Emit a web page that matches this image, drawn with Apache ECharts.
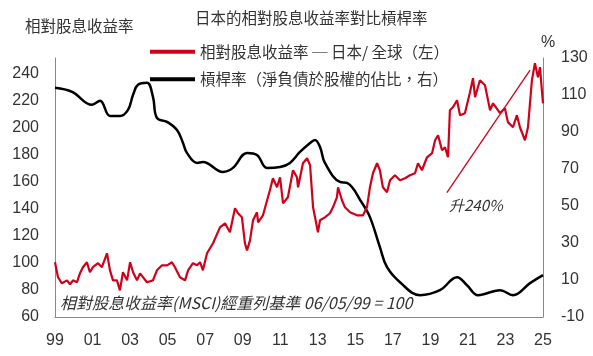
<!DOCTYPE html>
<html>
<head>
<meta charset="utf-8">
<script src="https://cdn.jsdelivr.net/npm/echarts@6/dist/echarts.min.js"></script>
<style>
html,body{margin:0;padding:0;background:#fff;}
#chart{width:593px;height:356px;}
</style>
</head>
<body>
<div id="chart"></div>
<script>
// ---- Data ----
const redYears = [1999.00,1999.16,1999.37,1999.64,1999.80,1999.96,2000.17,2000.33,2000.49,2000.70,2000.86,2001.02,2001.29,2001.50,2001.77,2001.93,2002.09,2002.30,2002.46,2002.62,2002.84,2003.00,2003.16,2003.37,2003.53,2003.90,2004.22,2004.43,2004.70,2004.97,2005.23,2005.39,2005.66,2005.93,2006.09,2006.35,2006.57,2006.73,2006.88,2007.10,2007.42,2007.79,2008.06,2008.32,2008.59,2008.75,2008.96,2009.12,2009.23,2009.39,2009.55,2009.76,2009.82,2010.08,2010.45,2010.61,2010.83,2010.99,2011.15,2011.41,2011.68,2011.89,2011.95,2012.21,2012.43,2012.59,
  2012.75,2013.01,2013.12,2013.38,2013.65,2013.81,2014.02,2014.08,2014.29,2014.45,2014.72,2015.09,2015.41,2015.62,2015.78,2015.94,2016.16,2016.31,2016.47,2016.69,2016.85,2017.11,2017.38,2017.65,2017.91,2018.18,2018.34,2018.55,2018.82,2019.09,2019.25,2019.41,2019.62,2019.78,2019.94,2020.04,2020.20,2020.42,2020.58,2020.84,2021.11,2021.27,2021.38,2021.64,2021.91,2022.18,2022.34,2022.71,2022.97,2023.13,2023.40,2023.61,2023.77,2024.04,2024.20,2024.41,2024.57,2024.73,2024.84,2024.92,2025.00];
const redValues = [100.5,89.4,84.9,87.1,84.2,87.1,85.7,92.3,96.8,100.5,93.1,96.8,99.8,96.8,107.1,94.5,87.1,87.1,79.7,93.1,87.1,100.5,93.1,87.1,92.3,85.7,87.1,94.5,98.2,98.2,100.5,96.8,89.4,87.1,94.5,99.8,98.2,100.5,94.5,107.1,114.5,126.3,129.3,122.6,140.4,136.7,133.7,114.5,109.3,116.7,131.5,137.4,130.0,135.2,153.7,162.6,155.9,163.3,144.1,148.5,168.5,163.3,155.9,173.7,177.4,172.2,
  141.1,122.6,131.5,133.7,136.7,141.1,148.5,155.9,146.3,141.1,137.4,135.2,135.2,141.1,155.9,166.3,173.7,168.5,155.9,152.2,161.1,164.8,161.1,162.6,164.8,166.3,173.7,168.5,178.1,181.1,190.7,194.4,183.3,185.5,178.1,212.9,215.1,220.3,209.2,210.7,226.2,236.6,222.5,235.1,231.4,212.9,218.0,210.7,214.4,204.1,200.3,209.2,200.3,190.7,200.3,235.1,247.6,237.3,244.7,231.0,218.0];

const blackYears = [1999.00,1999.91,2000.97,2001.40,2001.93,2002.46,2002.89,2003.16,2003.42,2003.90,2004.22,2004.43,2004.97,2005.50,2005.82,2006.03,2006.57,2006.88,2007.95,2008.48,2009.23,2009.76,2010.29,2010.99,2011.52,2012.05,2012.59,2012.85,2013.12,2013.38,2014.18,2014.56,2015.36,2015.78,2016.31,2016.69,2017.38,2018.45,2019.51,2020.42,2020.95,2021.54,2022.71,2023.40,2024.31,2025.00];
const blackValues = [113.9,111.7,104.7,106.9,98.7,98.7,102.0,110.1,115.5,116.6,109.0,97.6,95.5,91.1,84.1,78.7,73.3,73.8,68.4,70.6,78.7,77.6,70.6,71.1,73.3,79.2,84.1,85.7,81.9,73.3,63.0,62.5,51.6,44.0,27.8,16.9,8.8,1.8,4.5,11.5,7.2,1.8,4.5,1.8,8.3,12.6];

const leftTicks = [60, 80, 100, 120, 140, 160, 180, 200, 220, 240];
const rightTicks = [-10, 10, 30, 50, 70, 90, 110, 130];
const xTickYears = [1999, 2001, 2003, 2005, 2007, 2009, 2011, 2013, 2015, 2017, 2019, 2021, 2023, 2025];

const titleText = '日本的相對股息收益率對比槓桿率';
const redName = '相對股息收益率 ─ 日本/ 全球（左）';
const blackName = '槓桿率（淨負債於股權的佔比，右）';
const leftAxisName = '相對股息收益率';
const noteText = '相對股息收益率(MSCI)經重列基準 06/05/99 = 100';
const arrowText = '升240%';
const arrowFrom = [2019.88, 152];
const arrowTo = [2024.31, 242.5];

// ---- Chart ----
const FONT = '"Liberation Sans", "Noto Sans CJK TC", sans-serif';
const CJK = '"Noto Sans CJK TC", "Liberation Sans", sans-serif';
const redData = redYears.map((y, i) => [y, redValues[i]]);
const blackData = blackYears.map((y, i) => [y, blackValues[i]]);

const chart = echarts.init(document.getElementById('chart'), null, {renderer: 'canvas'});
chart.setOption({
  animation: false,
  backgroundColor: '#ffffff',
  title: {
    text: titleText,
    left: 190, top: 5,
    textStyle: {fontFamily: CJK, fontSize: 15.5, fontWeight: 'normal', color: '#333'}
  },
  legend: {
    orient: 'vertical',
    left: 145, top: 39,
    itemWidth: 45, itemHeight: 4, itemGap: 12,
    icon: 'rect',
    textStyle: {fontFamily: CJK, fontSize: 15.5, color: '#333'},
    data: [redName, blackName]
  },
  grid: {left: 55, right: 50, top: 58, bottom: 39, containLabel: false},
  xAxis: {
    type: 'value', min: 1999, max: 2025, interval: 2,
    axisLine: {show: true, onZero: false, lineStyle: {color: '#888', width: 1}},
    axisTick: {show: false},
    splitLine: {show: false},
    axisLabel: {
      margin: 16, fontFamily: FONT, fontSize: 16, color: '#333',
      formatter: v => xTickYears.indexOf(v) >= 0 ? String(v).slice(-2) : ''
    }
  },
  yAxis: [
    {
      type: 'value', min: 60, max: 251.5, interval: 20, position: 'left',
      axisLine: {show: true, lineStyle: {color: '#888', width: 1}},
      axisTick: {show: false}, splitLine: {show: false},
      axisLabel: {
        margin: 16, fontFamily: FONT, fontSize: 16, color: '#333', showMaxLabel: false,
        formatter: v => leftTicks.indexOf(v) >= 0 ? String(v) : ''
      }
    },
    {
      type: 'value', min: -10, max: 130, interval: 20, position: 'right',
      axisLine: {show: true, lineStyle: {color: '#888', width: 1}},
      axisTick: {show: false}, splitLine: {show: false},
      axisLabel: {
        margin: 18, fontFamily: FONT, fontSize: 16, color: '#333',
        formatter: v => rightTicks.indexOf(v) >= 0 ? String(v) : ''
      }
    }
  ],
  series: [
    {
      name: redName, type: 'line', yAxisIndex: 0, data: redData,
      showSymbol: false, symbol: 'none',
      lineStyle: {color: '#d0021b', width: 2.2},
      itemStyle: {color: '#d0021b'},
      z: 3,
      markLine: {
        silent: true, symbol: ['none', 'arrow'], symbolSize: [0, 12],
        lineStyle: {color: '#d0021b', width: 1.3, type: 'solid'},
        label: {show: false},
        data: [[{coord: arrowFrom}, {coord: arrowTo}]]
      }
    },
    {
      name: blackName, type: 'line', yAxisIndex: 1, data: blackData,
      showSymbol: false, symbol: 'none', smooth: 0.4,
      lineStyle: {color: '#000', width: 2.5},
      itemStyle: {color: '#000'},
      z: 2
    }
  ],
  graphic: [
    {type: 'text', left: 25, top: 18, style: {text: leftAxisName, font: '15.5px ' + CJK, fill: '#333'}},
    {type: 'text', left: 541, top: 35, style: {text: '%', font: '16px ' + FONT, fill: '#333'}},
    {type: 'text', left: 60, top: 295, style: {text: noteText, font: 'italic 16px ' + CJK, fill: '#333'}},
    {type: 'text', left: 449, top: 198, style: {text: arrowText, font: 'italic 15px ' + CJK, fill: '#333'}}
  ]
});
</script>
</body>
</html>
